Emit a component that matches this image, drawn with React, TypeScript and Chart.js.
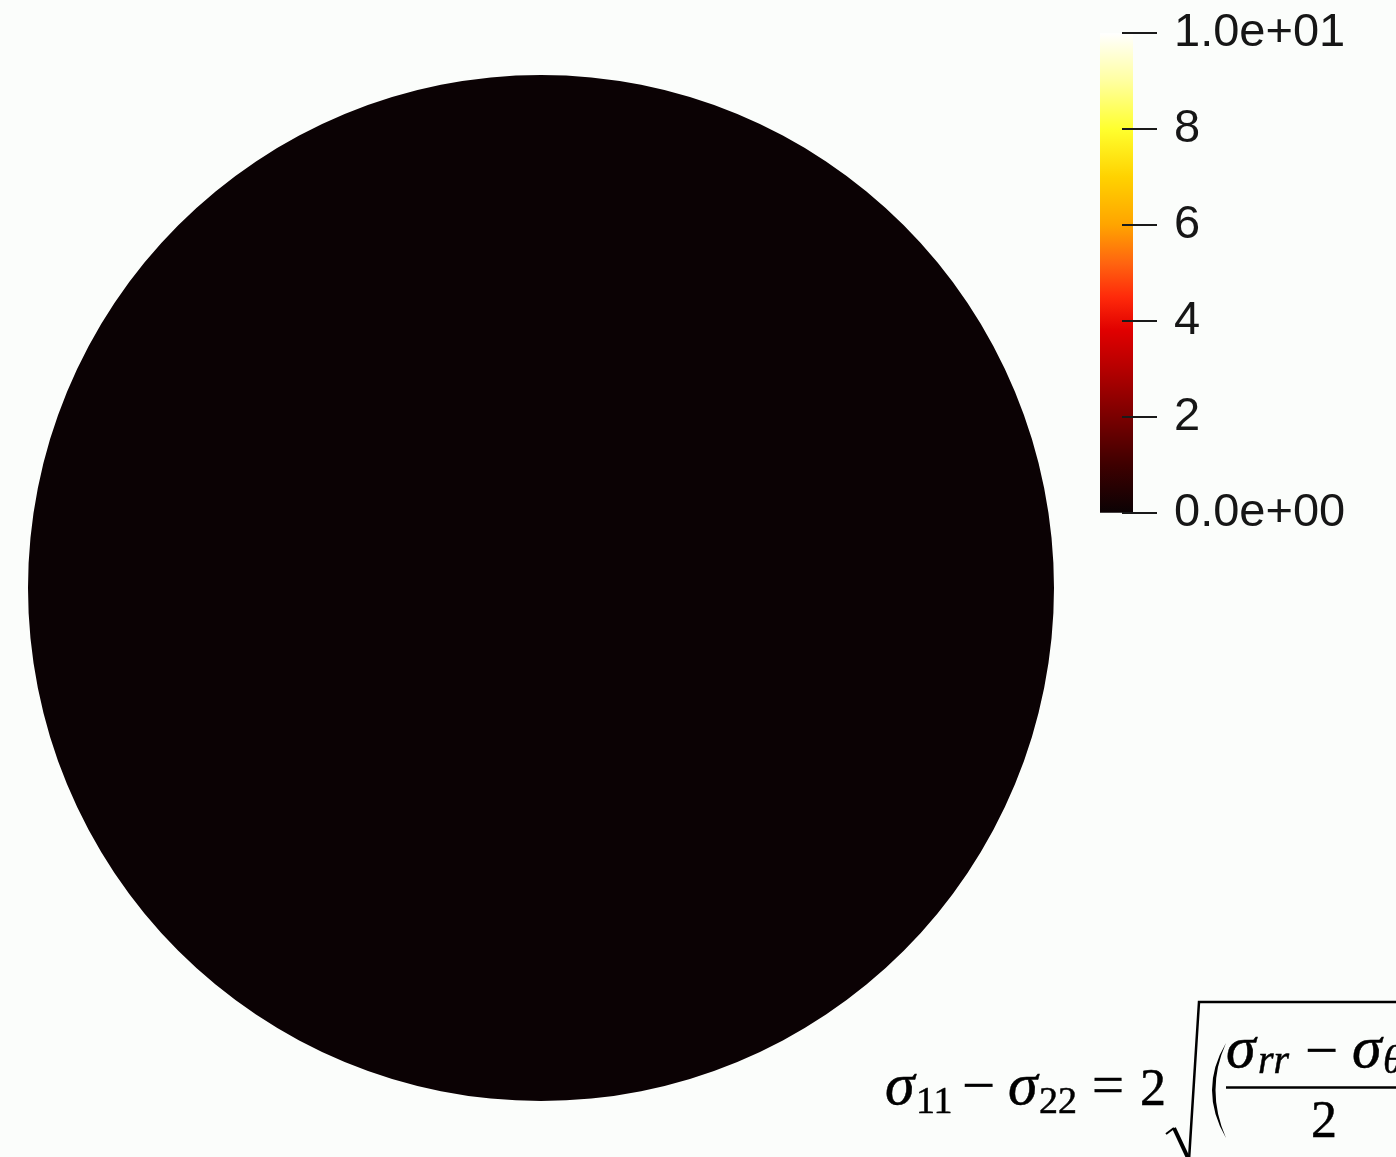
import React, { useEffect, useRef } from "react";
import { Chart, registerables } from "chart.js";

Chart.register(...registerables);

// Field: a single disk region, all of it at σ11 − σ22 = 0
const regionLabels = ["Disk"];
const regionShares = [100];
const stressValues = [0];

// Colour bar range and ticks
const scaleMin = 0;
const scaleMax = 10;
const tickValues = [0, 2, 4, 6, 8, 10];
const tickLabels = ["0.0e+00", "2", "4", "6", "8", "1.0e+01"];

// Black-body style colour map (normalised position -> colour)
const colormapPositions = [0, 0.1, 0.2, 0.3, 0.38, 0.45, 0.52, 0.6, 0.7, 0.8, 0.9, 1];
const colormapColors = [
  "#0b0204", "#3e0000", "#7a0000", "#b50000", "#e00000", "#ff2a0a",
  "#ff6410", "#ffa400", "#ffd200", "#ffff2e", "#ffffa0", "#ffffff",
];

const hexToRgb = (h: string) => [
  parseInt(h.slice(1, 3), 16),
  parseInt(h.slice(3, 5), 16),
  parseInt(h.slice(5, 7), 16),
];

function colormap(t: number): string {
  const x = Math.max(0, Math.min(1, t));
  for (let i = 1; i < colormapPositions.length; i++) {
    if (x <= colormapPositions[i]) {
      const p0 = colormapPositions[i - 1];
      const p1 = colormapPositions[i];
      const f = (x - p0) / (p1 - p0);
      const a = hexToRgb(colormapColors[i - 1]);
      const b = hexToRgb(colormapColors[i]);
      const c = a.map((v, k) => Math.round(v + (b[k] - v) * f));
      return `rgb(${c[0]},${c[1]},${c[2]})`;
    }
  }
  return colormapColors[colormapColors.length - 1];
}

const BG = "#fbfdfb";

// One piece of the formula: text, x, baseline, size, italic, drawn width (0 = natural)
type Piece = [string, number, number, number, boolean, number];
const formulaPieces: Piece[] = [
  ["σ", 885, 1104, 60, true, 0],
  ["11", 916, 1113, 38, false, 0],
  ["−", 962, 1104, 56, false, 33],
  ["σ", 1008, 1104, 60, true, 0],
  ["22", 1039, 1113, 38, false, 0],
  ["=", 1092, 1104, 58, false, 32],
  ["2", 1140, 1105, 52, false, 0],
  ["σ", 1226, 1067, 60, true, 0],
  ["rr", 1258, 1073, 40, true, 0],
  ["−", 1305, 1069, 56, false, 33],
  ["σ", 1352, 1067, 60, true, 0],
  ["θθ", 1383, 1073, 40, true, 0],
  ["2", 1311, 1137, 52, false, 0],
];

export default function App() {
  const diskRef = useRef<HTMLCanvasElement>(null);
  const barRef = useRef<HTMLCanvasElement>(null);

  useEffect(() => {
    const disk = new Chart(diskRef.current!, {
      type: "pie",
      data: {
        labels: regionLabels,
        datasets: [
          {
            data: regionShares,
            backgroundColor: stressValues.map((v) =>
              colormap((v - scaleMin) / (scaleMax - scaleMin))
            ),
            borderWidth: 0,
            hoverOffset: 0,
          },
        ],
      },
      options: {
        responsive: false,
        animation: false,
        events: [],
        layout: { padding: 0 },
        plugins: { legend: { display: false }, tooltip: { enabled: false } },
      },
    });

    const tickMarks = {
      id: "tickMarks",
      afterDraw(chart: any) {
        const { ctx, chartArea } = chart;
        const y = chart.scales.y;
        ctx.save();
        ctx.strokeStyle = "#1a1a1a";
        ctx.lineWidth = 2;
        tickValues.forEach((v) => {
          const py = Math.round(y.getPixelForValue(v));
          ctx.beginPath();
          ctx.moveTo(chartArea.right - 11, py);
          ctx.lineTo(chartArea.right + 24, py);
          ctx.stroke();
        });
        ctx.restore();
      },
    };

    const bar = new Chart(barRef.current!, {
      type: "bar",
      data: {
        labels: ["σ11 − σ22"],
        datasets: [
          {
            data: [scaleMax],
            borderWidth: 0,
            barPercentage: 1,
            categoryPercentage: 1,
            backgroundColor: (c: any) => {
              const { chart } = c;
              const area = chart.chartArea;
              if (!area) return colormap(0);
              const g = chart.ctx.createLinearGradient(0, area.bottom, 0, area.top);
              colormapPositions.forEach((p, i) => g.addColorStop(p, colormapColors[i]));
              return g;
            },
          },
        ],
      },
      options: {
        responsive: false,
        animation: false,
        events: [],
        layout: { padding: { left: 10, right: 0, top: 32, bottom: 30 } },
        plugins: { legend: { display: false }, tooltip: { enabled: false } },
        scales: {
          x: { display: false },
          y: {
            position: "right",
            min: scaleMin,
            max: scaleMax,
            afterFit: (s: any) => {
              s.width = 306 - 10 - 33;
            },
            grid: { display: false, drawTicks: false },
            border: { display: false },
            ticks: {
              stepSize: 2,
              padding: 41,
              color: "#161616",
              font: { family: "Liberation Sans", size: 47 },
              callback: (v: any) => {
                const i = tickValues.indexOf(Number(v));
                return i >= 0 ? tickLabels[i] : "";
              },
            },
          },
        },
      },
      plugins: [tickMarks],
    });

    return () => {
      disk.destroy();
      bar.destroy();
    };
  }, []);

  return (
    <div
      style={{
        position: "absolute",
        left: 0,
        top: 0,
        width: 1396,
        height: 1157,
        overflow: "hidden",
        background: BG,
      }}
    >
      <canvas
        ref={diskRef}
        width={1026}
        height={1026}
        style={{ position: "absolute", left: 28, top: 75, width: 1026, height: 1026 }}
      />
      <canvas
        ref={barRef}
        width={306}
        height={618}
        style={{ position: "absolute", left: 1090, top: -36, width: 306, height: 618 }}
      />
      <svg
        width={1396}
        height={1157}
        style={{ position: "absolute", left: 0, top: 0, pointerEvents: "none" }}
      >
        <g fill="#000" stroke="#000" strokeWidth={0.5} fontFamily="Liberation Serif">
          {formulaPieces.map(([t, x, y, size, italic, w], i) => (
            <text
              key={i}
              x={x}
              y={y}
              fontSize={size}
              fontStyle={italic ? "italic" : "normal"}
              textLength={w > 0 ? w : undefined}
              lengthAdjust={w > 0 ? "spacingAndGlyphs" : undefined}
            >
              {t}
            </text>
          ))}
        </g>
        {/* radical sign */}
        <path d="M1166 1134 L1174 1128" stroke="#000" strokeWidth={2} fill="none" />
        <path d="M1174 1128 L1189 1160" stroke="#000" strokeWidth={4} fill="none" />
        <path d="M1189 1160 L1199 1002 L1396 1002" stroke="#000" strokeWidth={2.5} fill="none" />
        {/* left parenthesis */}
        <path d="M1226 1043 Q1198 1090 1226 1138 Q1205 1090 1226 1043 Z" fill="#000" />
        {/* fraction bar */}
        <path d="M1226 1087.5 L1396 1087.5" stroke="#000" strokeWidth={2.5} fill="none" />
      </svg>
    </div>
  );
}
